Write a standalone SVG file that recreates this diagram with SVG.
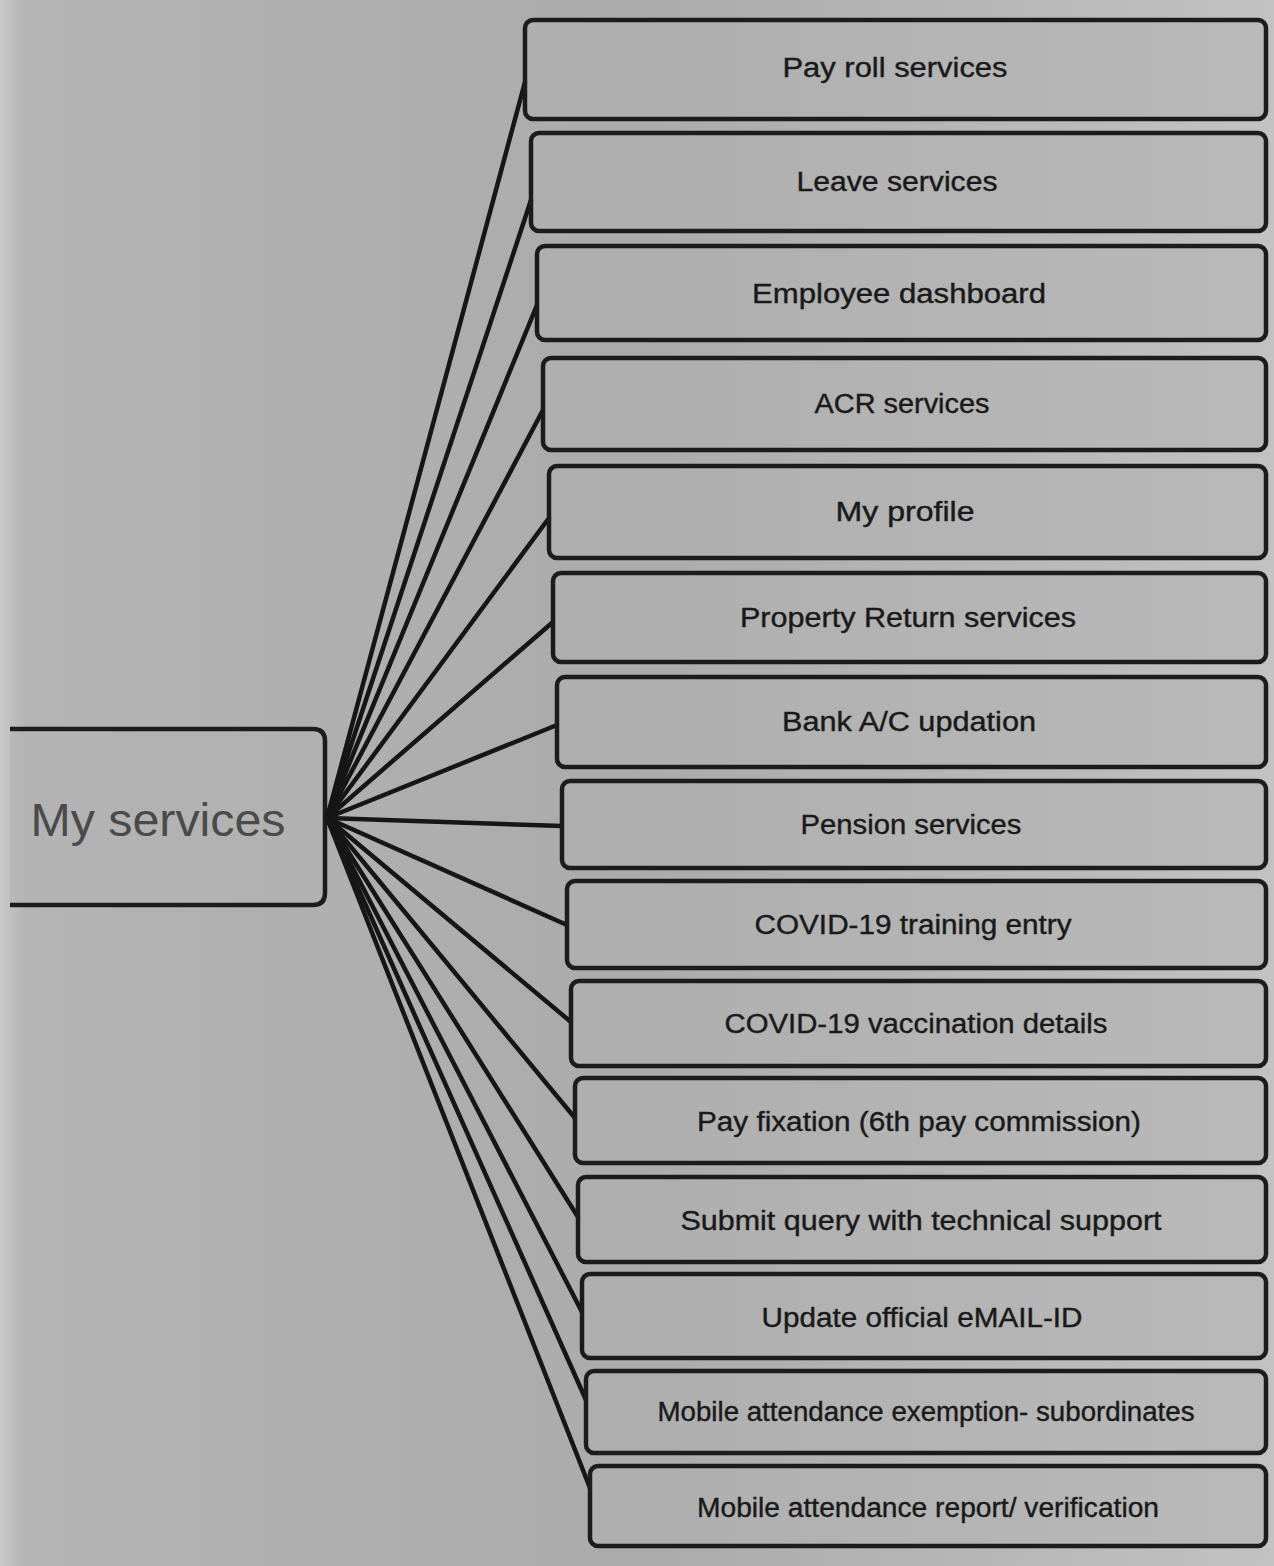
<svg xmlns="http://www.w3.org/2000/svg" width="1274" height="1566" viewBox="0 0 1274 1566">
<defs>
<linearGradient id="bg" x1="0" y1="0" x2="1" y2="0">
<stop offset="0" stop-color="#c9c9c9"/>
<stop offset="0.02" stop-color="#b4b4b4"/>
<stop offset="0.5" stop-color="#ababab"/>
<stop offset="0.75" stop-color="#b6b6b6"/>
<stop offset="1" stop-color="#c2c2c2"/>
</linearGradient>
<style>
.box{fill:#b3b3b3;fill-opacity:0.55;stroke:#1c1c1c;stroke-width:4.5}
.lbl{font-family:"Liberation Sans",Arial,sans-serif;font-size:27px;fill:#1a1a1a;text-anchor:middle;stroke:#1a1a1a;stroke-width:0.4}
.conn line{stroke:#161616;stroke-width:4.5;stroke-linecap:round}
</style>
</defs>
<rect x="0" y="0" width="1274" height="1566" fill="url(#bg)"/>
<g id="root">
<path class="box" d="M10,729 H313 Q325,729 325,741 V893 Q325,905 313,905 H10"/>
<text x="158" y="836" style="font-family:'Liberation Sans',Arial,sans-serif;font-size:47px;fill:#4a4a4a;text-anchor:middle" textLength="255" lengthAdjust="spacingAndGlyphs">My services</text>
</g>
<g class="conn" id="connectors">
<line x1="327" y1="818" x2="525" y2="82"/>
<line x1="327" y1="818" x2="531" y2="200"/>
<line x1="327" y1="818" x2="537" y2="305"/>
<line x1="327" y1="818" x2="543" y2="410"/>
<line x1="327" y1="818" x2="549" y2="518"/>
<line x1="327" y1="818" x2="553" y2="622"/>
<line x1="327" y1="818" x2="557" y2="725"/>
<line x1="327" y1="818" x2="562" y2="826"/>
<line x1="327" y1="818" x2="567" y2="925"/>
<line x1="327" y1="818" x2="571" y2="1022"/>
<line x1="327" y1="818" x2="575" y2="1118"/>
<line x1="327" y1="818" x2="578" y2="1217"/>
<line x1="327" y1="818" x2="582" y2="1312"/>
<line x1="327" y1="818" x2="586" y2="1400"/>
<line x1="327" y1="818" x2="590" y2="1488"/>
</g>
<g id="n1"><rect class="box" x="525" y="20" width="741" height="99" rx="8"/><text class="lbl" x="895" y="77" textLength="225" lengthAdjust="spacingAndGlyphs">Pay roll services</text></g>
<g id="n2"><rect class="box" x="531" y="133" width="735" height="98" rx="8"/><text class="lbl" x="897" y="191" textLength="201" lengthAdjust="spacingAndGlyphs">Leave services</text></g>
<g id="n3"><rect class="box" x="537" y="246" width="729" height="94" rx="8"/><text class="lbl" x="899" y="303" textLength="294" lengthAdjust="spacingAndGlyphs">Employee dashboard</text></g>
<g id="n4"><rect class="box" x="543" y="358" width="723" height="92" rx="8"/><text class="lbl" x="902" y="413" textLength="175" lengthAdjust="spacingAndGlyphs">ACR services</text></g>
<g id="n5"><rect class="box" x="549" y="466" width="717" height="92" rx="8"/><text class="lbl" x="905" y="521" textLength="139" lengthAdjust="spacingAndGlyphs">My profile</text></g>
<g id="n6"><rect class="box" x="553" y="573" width="713" height="89" rx="8"/><text class="lbl" x="908" y="627" textLength="336" lengthAdjust="spacingAndGlyphs">Property Return services</text></g>
<g id="n7"><rect class="box" x="557" y="677" width="709" height="90" rx="8"/><text class="lbl" x="909" y="731" textLength="254" lengthAdjust="spacingAndGlyphs">Bank A/C updation</text></g>
<g id="n8"><rect class="box" x="562" y="781" width="704" height="87" rx="8"/><text class="lbl" x="911" y="834" textLength="221" lengthAdjust="spacingAndGlyphs">Pension services</text></g>
<g id="n9"><rect class="box" x="567" y="881" width="699" height="87" rx="8"/><text class="lbl" x="913" y="934" textLength="317" lengthAdjust="spacingAndGlyphs">COVID-19 training entry</text></g>
<g id="n10"><rect class="box" x="571" y="981" width="695" height="85" rx="8"/><text class="lbl" x="916" y="1033" textLength="383" lengthAdjust="spacingAndGlyphs">COVID-19 vaccination details</text></g>
<g id="n11"><rect class="box" x="575" y="1078" width="691" height="85" rx="8"/><text class="lbl" x="919" y="1131" textLength="444" lengthAdjust="spacingAndGlyphs">Pay fixation (6th pay commission)</text></g>
<g id="n12"><rect class="box" x="578" y="1177" width="688" height="85" rx="8"/><text class="lbl" x="921" y="1230" textLength="481" lengthAdjust="spacingAndGlyphs">Submit query with technical support</text></g>
<g id="n13"><rect class="box" x="582" y="1274" width="684" height="84" rx="8"/><text class="lbl" x="922" y="1327" textLength="321" lengthAdjust="spacingAndGlyphs">Update official eMAIL-ID</text></g>
<g id="n14"><rect class="box" x="586" y="1371" width="680" height="82" rx="8"/><text class="lbl" x="926" y="1421" textLength="537" lengthAdjust="spacingAndGlyphs">Mobile attendance exemption- subordinates</text></g>
<g id="n15"><rect class="box" x="590" y="1466" width="676" height="80" rx="8"/><text class="lbl" x="928" y="1517" textLength="462" lengthAdjust="spacingAndGlyphs">Mobile attendance report/ verification</text></g>
</svg>
